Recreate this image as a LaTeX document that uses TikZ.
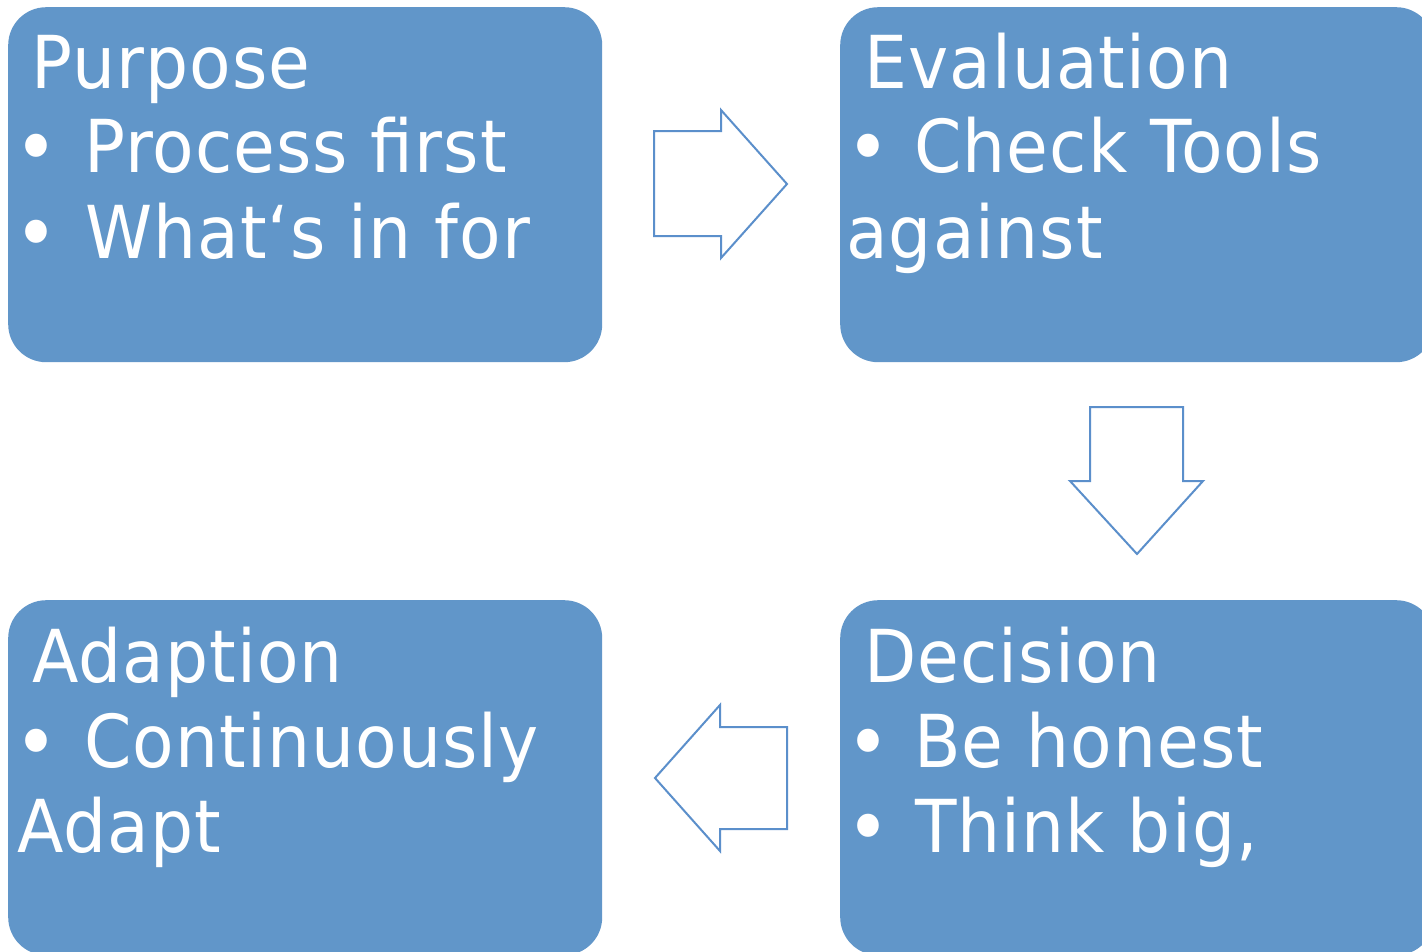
\documentclass[tikz,border=0pt]{standalone}
\usepackage{fontspec}
\setmainfont{DejaVu Sans}[FakeStretch=0.93, LetterSpace=1.5]
\definecolor{boxblue}{HTML}{6196C9}
\definecolor{arrowblue}{HTML}{5B8FCB}
\begin{document}
\begin{tikzpicture}[x=1pt,y=-1pt,
  box/.style={draw=none, fill=boxblue, rounded corners=38pt, inner sep=0pt,
    minimum width=594pt, minimum height=355pt, anchor=north west},
  txt/.style={anchor=base west, inner sep=0pt, text=white,
    font=\fontsize{73}{85}\selectfont},
  bul/.style={txt, font=\fontsize{80}{85}\selectfont},
  blockarrow/.style={draw=arrowblue, line width=2pt, fill=white, line join=miter}
]
\clip (0,0) rectangle (1422,951);
\fill[white] (0,0) rectangle (1422,951);

% boxes
\node[box] (purpose) at (8,7) {};
\node[box] (evaluation) at (840,7) {};
\node[box] (decision) at (840,600) {};
\node[box] (adaption) at (8,600) {};

% Purpose
\node[txt] (pT) at (31,88) {Purpose};
\node[bul] (pB1) at (14,175) {•};
\node[txt] (p1) at (84,172) {Process first};
\node[bul] (pB2) at (14,261) {•};
\node[txt] (p2) at (85,258) {What‘s in for};

% Evaluation
\node[txt] (eT) at (864,88) {Evaluation};
\node[bul] (eB1) at (846,175) {•};
\node[txt] (e1) at (914,172) {Check Tools};
\node[txt] (e2) at (846,258) {against};

% Decision
\node[txt] (dT) at (864,682) {Decision};
\node[bul] (dB1) at (846,770) {•};
\node[txt] (d1) at (914,767) {Be honest};
\node[bul] (dB2) at (846,855) {•};
\node[txt] (d2) at (915,852) {Think big,};

% Adaption
\node[txt] (aT) at (32,682) {Adaption};
\node[bul] (aB1) at (14,770) {•};
\node[txt] (a1) at (84,767) {Continuously};
\node[txt] (a2) at (17,852) {Adapt};

% block arrows
\draw[blockarrow] (654,131) -- (721,131) -- (721,110) -- (787,184) -- (721,258) -- (721,236) -- (654,236) -- cycle;
\draw[blockarrow] (1090,407) -- (1183,407) -- (1183,481) -- (1203,481) -- (1137,554) -- (1070,481) -- (1090,481) -- cycle;
\draw[blockarrow] (787,727) -- (720,727) -- (720,705) -- (655,778) -- (720,851) -- (720,829) -- (787,829) -- cycle;
\end{tikzpicture}
\end{document}
